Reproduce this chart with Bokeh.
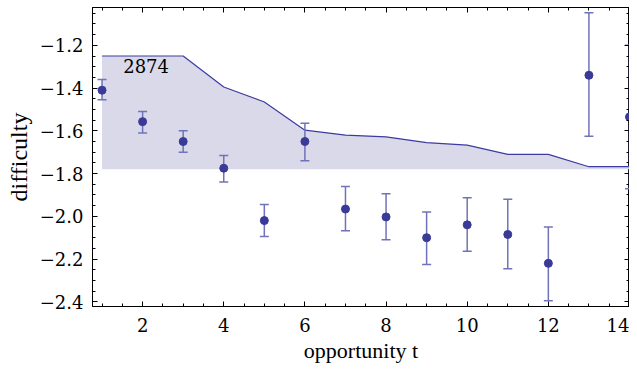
from bokeh.plotting import figure
from bokeh.models import (ColumnDataSource, LinearAxis, Range1d, FixedTicker, Label,
                          CustomLabelingPolicy)
from bokeh.embed import file_html
from bokeh.resources import INLINE

# ---- data ----
t = [1, 2, 3, 4, 5, 6, 7, 8, 9, 10, 11, 12, 13, 14]
mean = [-1.41, -1.557, -1.65, -1.775, -2.02, -1.65, -1.966, -2.003, -2.10, -2.04, -2.085, -2.22, -1.34, -1.535]
lower = [-1.455, -1.61, -1.70, -1.84, -2.095, -1.74, -2.068, -2.11, -2.225, -2.163, -2.245, -2.395, -1.625, -1.871]
upper = [-1.36, -1.51, -1.60, -1.715, -1.945, -1.565, -1.86, -1.895, -1.98, -1.913, -1.92, -2.05, -1.048, -1.20]
band_upper = [-1.25, -1.25, -1.25, -1.395, -1.465, -1.597, -1.62, -1.628, -1.655, -1.667, -1.71, -1.71, -1.768, -1.768]
band_lower = [-1.78] * 14
x_ticks = [2, 4, 6, 8, 10, 12, 14]
y_ticks = [-2.4, -2.2, -2.0, -1.8, -1.6, -1.4, -1.2]
annotation = "2874"
annotation_pos = (2.086, -1.296)

TICK_FONT = "DejaVu Serif"
LABEL_FONT = "Liberation Serif"
PT_COLOR = "#3a3a98"
BAR_COLOR = "#7073b8"
BAND_FILL = "#d9d9ea"
BAND_LINE = "#3c3ca0"

p = figure(width=629, height=365, output_backend="svg", toolbar_location=None,
           x_range=Range1d(0.765, 14.0), y_range=Range1d(-2.422, -1.023),
           x_axis_location=None, y_axis_location=None,
           min_border_left=92, min_border_right=0, min_border_top=7, min_border_bottom=0)
p.grid.visible = False
p.outline_line_color = "black"
p.outline_line_width = 1
p.background_fill_color = "white"
p.border_fill_color = "white"

src = ColumnDataSource(dict(t=t, mean=mean, lo=lower, hi=upper,
                            bu=band_upper, bl=band_lower))

p.varea(x="t", y1="bl", y2="bu", source=src, fill_color=BAND_FILL, fill_alpha=1.0)
p.line(x="t", y="bu", source=src, line_color=BAND_LINE, line_width=1.2)

# error bars: stems and caps
p.segment(x0="t", y0="lo", x1="t", y1="hi", source=src, line_color=BAR_COLOR, line_width=1.5)
p.scatter(x="t", y="lo", source=src, marker="dash", size=9, line_color=BAR_COLOR, line_width=1.5)
p.scatter(x="t", y="hi", source=src, marker="dash", size=9, line_color=BAR_COLOR, line_width=1.5)
p.scatter(x="t", y="mean", source=src, size=8, fill_color=PT_COLOR, line_color=PT_COLOR)

p.add_layout(Label(x=annotation_pos[0], y=annotation_pos[1], text=annotation,
                   text_align="center", text_baseline="middle",
                   text_font=TICK_FONT, text_font_size="18px", text_color="black"))

hide_all = CustomLabelingPolicy(code="""
const idx = [];
for (const i of indices) idx.push(i);
for (const i of idx) indices.set(i, false);
return indices;
""")


def style_axis(ax, labels=True):
    ax.major_tick_in = 5
    ax.major_tick_out = 0
    ax.minor_tick_in = 3
    ax.minor_tick_out = 0
    ax.axis_line_color = "black"
    ax.major_tick_line_color = "black"
    ax.minor_tick_line_color = "black"
    if labels:
        ax.major_label_text_font = TICK_FONT
        ax.major_label_text_font_size = "18px"
        ax.major_label_text_color = "black"
        ax.axis_label_text_font = LABEL_FONT
        ax.axis_label_text_font_size = "22px"
        ax.axis_label_text_font_style = "normal"
        ax.axis_label_text_color = "black"
    else:
        ax.major_label_policy = hide_all
        ax.major_label_text_font_size = "0px"
        ax.major_label_standoff = 0
        ax.axis_label_standoff = 0


xt = FixedTicker(ticks=x_ticks, minor_ticks=[v / 2 for v in range(2, 29)])
yt = FixedTicker(ticks=y_ticks, minor_ticks=[round(-2.45 + 0.05 * i, 2) for i in range(0, 29)])

bx = LinearAxis(ticker=xt, axis_label="opportunity t")
style_axis(bx)
bx.major_label_standoff = 11
bx.axis_label_standoff = 3
p.add_layout(bx, "below")

ly = LinearAxis(ticker=yt, axis_label="difficulty")
style_axis(ly)
ly.axis_label_text_font_size = "24px"
ly.major_label_standoff = 9
ly.axis_label_standoff = 5
ly.major_label_overrides = {v: ("\u2212%.1f" % abs(v)) for v in y_ticks}
p.add_layout(ly, "left")

tx = LinearAxis(ticker=xt)
style_axis(tx, labels=False)
p.add_layout(tx, "above")

ry = LinearAxis(ticker=yt)
style_axis(ry, labels=False)
p.add_layout(ry, "right")

open("out.html", "w").write(file_html(p, INLINE))
